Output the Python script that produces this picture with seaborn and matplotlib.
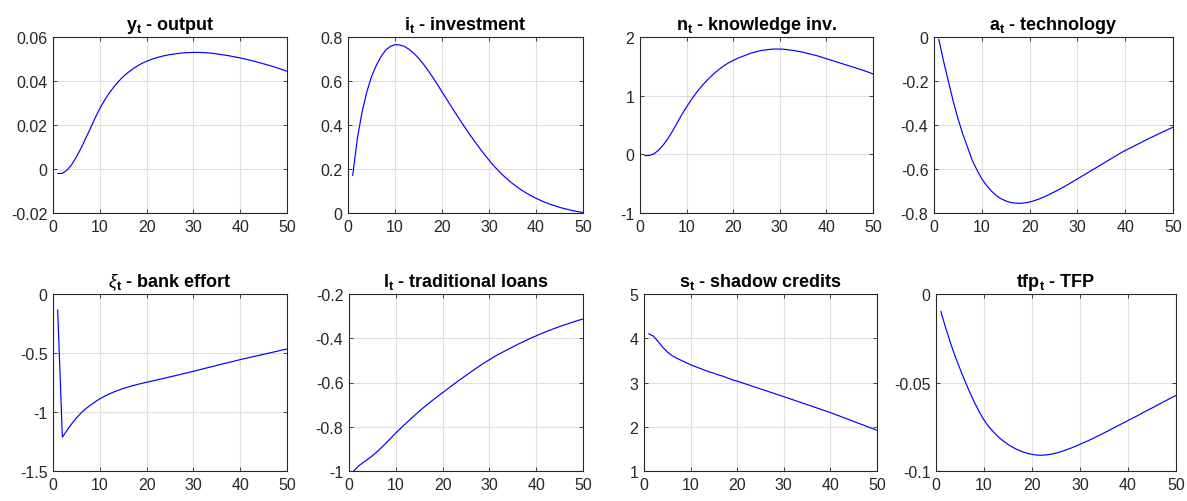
import numpy as np
import pandas as pd
import matplotlib
matplotlib.use("Agg")
import matplotlib.pyplot as plt
from matplotlib.ticker import FuncFormatter, MultipleLocator
import seaborn as sns

# Impulse responses over 50 periods
periods = list(range(1, 51))

output = [-0.0020, -0.0020, -0.0005, 0.0020, 0.0055, 0.0095, 0.0140, 0.0185, 0.0232, 0.0275,
          0.0312, 0.0345, 0.0373, 0.0398, 0.0420, 0.0438, 0.0454, 0.0468, 0.0480, 0.0490,
          0.0498, 0.0505, 0.0511, 0.0516, 0.0520, 0.0523, 0.0526, 0.0528, 0.0529, 0.0530,
          0.0530, 0.0529, 0.0528, 0.0526, 0.0523, 0.0520, 0.0517, 0.0513, 0.0509, 0.0505,
          0.0500, 0.0495, 0.0490, 0.0484, 0.0478, 0.0472, 0.0466, 0.0459, 0.0452, 0.0444]

investment = [0.170, 0.340, 0.460, 0.550, 0.620, 0.670, 0.710, 0.740, 0.757, 0.765,
              0.764, 0.757, 0.744, 0.726, 0.704, 0.678, 0.649, 0.618, 0.585, 0.551,
              0.517, 0.483, 0.450, 0.417, 0.385, 0.354, 0.324, 0.295, 0.267, 0.240,
              0.215, 0.192, 0.171, 0.152, 0.134, 0.118, 0.103, 0.090, 0.078, 0.067,
              0.057, 0.048, 0.040, 0.033, 0.026, 0.020, 0.015, 0.010, 0.006, 0.002]

knowledge = [-0.02, -0.02, 0.01, 0.07, 0.16, 0.27, 0.40, 0.54, 0.68, 0.81,
             0.93, 1.04, 1.14, 1.23, 1.31, 1.385, 1.45, 1.51, 1.56, 1.60,
             1.64, 1.67, 1.70, 1.73, 1.75, 1.77, 1.78, 1.79, 1.795, 1.795,
             1.79, 1.78, 1.77, 1.755, 1.74, 1.72, 1.70, 1.68, 1.655, 1.63,
             1.605, 1.58, 1.555, 1.53, 1.505, 1.48, 1.455, 1.43, 1.40, 1.37]

technology = [-0.010, -0.110, -0.200, -0.290, -0.370, -0.440, -0.500, -0.560, -0.605, -0.645,
              -0.675, -0.700, -0.720, -0.735, -0.745, -0.752, -0.755, -0.756, -0.754, -0.750,
              -0.744, -0.736, -0.727, -0.717, -0.706, -0.695, -0.683, -0.671, -0.658, -0.645,
              -0.632, -0.619, -0.606, -0.593, -0.580, -0.567, -0.554, -0.541, -0.528, -0.516,
              -0.505, -0.494, -0.483, -0.472, -0.461, -0.451, -0.440, -0.430, -0.420, -0.410]

bank_effort = [-0.135, -1.213, -1.155, -1.100, -1.051, -1.008, -0.972, -0.942, -0.914, -0.888,
               -0.867, -0.848, -0.830, -0.815, -0.801, -0.789, -0.777, -0.767, -0.757, -0.748,
               -0.739, -0.730, -0.721, -0.712, -0.702, -0.693, -0.684, -0.674, -0.665, -0.655,
               -0.645, -0.635, -0.625, -0.615, -0.605, -0.595, -0.585, -0.576, -0.566, -0.556,
               -0.547, -0.538, -0.529, -0.520, -0.511, -0.502, -0.493, -0.484, -0.475, -0.466]

loans = [-1.000, -0.978, -0.962, -0.947, -0.931, -0.913, -0.893, -0.872, -0.850, -0.828,
         -0.808, -0.788, -0.768, -0.749, -0.730, -0.712, -0.695, -0.678, -0.662, -0.646,
         -0.630, -0.614, -0.598, -0.583, -0.568, -0.553, -0.538, -0.524, -0.510, -0.497,
         -0.484, -0.472, -0.461, -0.450, -0.439, -0.428, -0.418, -0.408, -0.398, -0.389,
         -0.380, -0.371, -0.363, -0.355, -0.347, -0.340, -0.333, -0.326, -0.319, -0.313]

shadow = [4.10, 4.05, 3.93, 3.80, 3.69, 3.61, 3.55, 3.50, 3.45, 3.40,
          3.36, 3.32, 3.28, 3.24, 3.21, 3.17, 3.14, 3.10, 3.06, 3.03,
          2.995, 2.96, 2.925, 2.89, 2.855, 2.82, 2.785, 2.75, 2.715, 2.68,
          2.644, 2.608, 2.572, 2.536, 2.50, 2.464, 2.428, 2.392, 2.356, 2.32,
          2.28, 2.24, 2.20, 2.16, 2.12, 2.08, 2.04, 2.00, 1.96, 1.92]

tfp = [-0.0098, -0.0190, -0.0275, -0.0353, -0.0423, -0.0490, -0.0553, -0.0612, -0.0665, -0.0712,
       -0.0750, -0.0780, -0.0808, -0.0830, -0.0850, -0.0866, -0.0880, -0.0891, -0.0900, -0.0906,
       -0.0910, -0.0911, -0.0909, -0.0905, -0.0899, -0.0891, -0.0882, -0.0872, -0.0861, -0.0849,
       -0.0837, -0.0825, -0.0812, -0.0798, -0.0785, -0.0771, -0.0757, -0.0743, -0.0729, -0.0715,
       -0.0701, -0.0687, -0.0672, -0.0658, -0.0644, -0.0630, -0.0615, -0.0601, -0.0587, -0.0573]

titles = [r"y$_\mathbf{t}$ - output", r"i$_\mathbf{t}$ - investment",
          r"n$_\mathbf{t}$ - knowledge inv.", r"a$_\mathbf{t}$ - technology",
          r"$\xi_\mathbf{t}$ - bank effort", r"l$_\mathbf{t}$ - traditional loans",
          r"s$_\mathbf{t}$ - shadow credits", r"tfp$_\mathbf{t}$ - TFP"]
series = [output, investment, knowledge, technology, bank_effort, loans, shadow, tfp]
y_limits = [(-0.02, 0.06), (0, 0.8), (-1, 2), (-0.8, 0),
            (-1.5, 0), (-1, -0.2), (1, 5), (-0.1, 0)]
y_steps = [0.02, 0.2, 1, 0.2, 0.5, 0.2, 1, 0.05]

sns.set_theme(style="white")
ink = "#262626"
plt.rcParams.update({
    "font.family": ["Liberation Sans", "DejaVu Sans"],
    "mathtext.fontset": "custom",
    "mathtext.rm": "Liberation Sans",
    "mathtext.it": "Liberation Sans:italic",
    "mathtext.bf": "Liberation Sans:bold",
    "axes.unicode_minus": False,
})

fig = plt.figure(figsize=(11.87, 5.02), dpi=100)
W, H = 1187, 502
# pixel boxes (left, right, top, bottom) of each panel
boxes = [(53, 287, 38, 214), (348, 583, 38, 214), (640, 873, 38, 214), (934, 1173, 38, 214),
         (53, 287, 295, 472), (349, 583, 295, 472), (644, 877, 295, 472), (936, 1176, 295, 472)]

fmt = FuncFormatter(lambda v, p: ("%g" % round(v, 6)))

for box, title, vals, ylim, step in zip(boxes, titles, series, y_limits, y_steps):
    l, r, t, b = box
    ax = fig.add_axes([l / W, 1 - b / H, (r - l) / W, (b - t) / H])
    df = pd.DataFrame({"period": periods, "value": vals})
    sns.lineplot(data=df, x="period", y="value", ax=ax, color="#0000ff", linewidth=0.85)
    ax.set_xlim(0, 50)
    ax.set_ylim(*ylim)
    ax.xaxis.set_major_locator(MultipleLocator(10))
    ax.yaxis.set_major_locator(MultipleLocator(step))
    ax.yaxis.set_major_formatter(fmt)
    ax.xaxis.set_major_formatter(fmt)
    ax.set_xlabel("")
    ax.set_ylabel("")
    ax.grid(True, color="#e0e0e0", linewidth=0.8)
    ax.set_axisbelow(True)
    for s in ax.spines.values():
        s.set_visible(True)
        s.set_color(ink)
        s.set_linewidth(0.8)
    ax.tick_params(axis="both", which="major", direction="in", length=3, width=0.6,
                   color=ink, labelcolor=ink, labelsize=11.5, pad=4,
                   top=True, right=True, bottom=True, left=True)
    ax.set_title(title, fontsize=13, fontweight="bold", color="black", pad=6)

fig.savefig("out.png", dpi=100)
